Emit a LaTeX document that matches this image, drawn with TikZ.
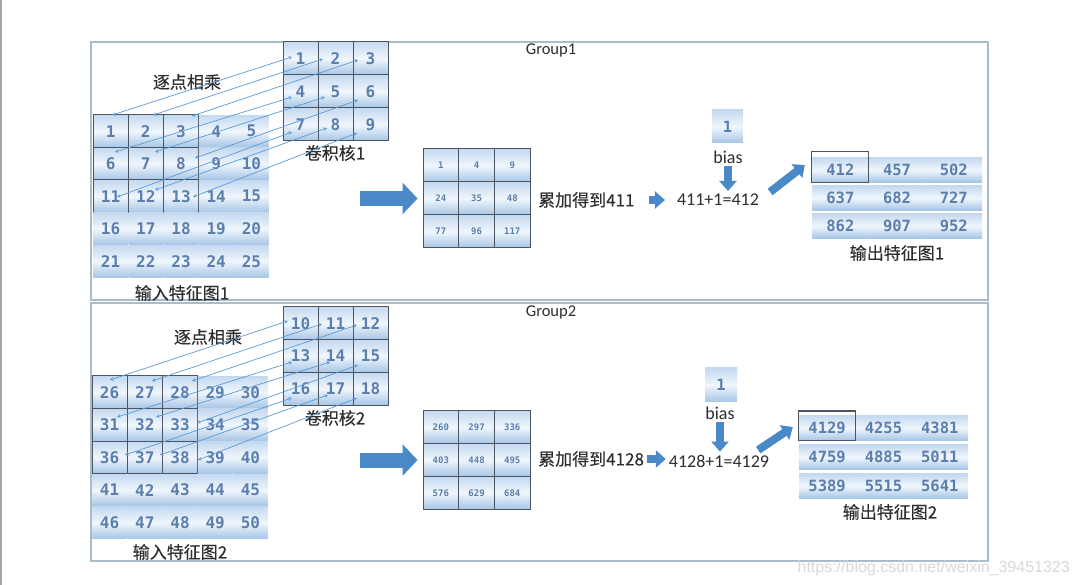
\documentclass[tikz,border=0pt]{standalone}
\usepackage{fontspec}
\setmainfont{Carlito}
\newfontfamily\cjkf[FakeBold=0.3]{Noto Sans CJK SC}
\newfontfamily\numf{DejaVu Sans Mono}
\newfontfamily\wmf{Liberation Sans}
\usetikzlibrary{arrows.meta,calc}
\definecolor{numc}{HTML}{5A7FAE}
\definecolor{cellt}{HTML}{C4D9F0}
\definecolor{cellm}{HTML}{F0F6FC}
\definecolor{cellb}{HTML}{A6C5E6}
\definecolor{gridln}{HTML}{4D5660}
\definecolor{panelc}{HTML}{A9BCC8}
\definecolor{linkc}{HTML}{5B9BD5}
\definecolor{fatc}{HTML}{4A89C8}
\definecolor{txt}{HTML}{2E2E2E}
\tikzset{
  cellbase/.style={rectangle, inner sep=0pt, top color=cellt, bottom color=cellb, middle color=cellm, text=numc},
  incell/.style={cellbase, minimum width=34.6pt, minimum height=31.9pt, font=\numf\bfseries\fontsize{16}{16}\selectfont},
  wincell/.style={incell, minimum width=35.2pt, minimum height=32.5pt, draw=gridln, line width=1pt},
  kcell/.style={incell, minimum width=35pt, minimum height=33pt, draw=gridln, line width=1pt},
  pcell/.style={cellbase, minimum width=35.7pt, minimum height=33pt, draw=gridln, line width=1pt, font=\numf\bfseries\fontsize{9}{9}\selectfont},
  ocell/.style={cellbase, minimum height=24.5pt, font=\numf\bfseries\fontsize{15.5}{15.5}\selectfont},
  biasbox/.style={cellbase, minimum width=31pt, minimum height=33pt, font=\numf\bfseries\fontsize{15.5}{15.5}\selectfont},
  cjklab/.style={text=txt, inner sep=1pt, font=\cjkf\fontsize{17}{17}\selectfont},
  latlab/.style={text=txt, inner sep=1pt, font=\fontsize{18}{18}\selectfont},
  grouplab/.style={text=txt, inner sep=1pt, font=\fontsize{16.5}{16.5}\selectfont},
  panelbox/.style={draw=panelc, line width=1.3pt},
  link/.style={draw=linkc, line width=0.7pt, {Stealth[length=3.5pt,width=3.5pt]}-{Stealth[length=3.5pt,width=3.5pt]}},
  fat/.style={draw=fatc, line width=8pt, -{Triangle[width=17pt,length=10pt]}},
  bigfat/.style={draw=fatc, line width=15pt, -{Triangle[width=31pt,length=15pt]}},
  hl/.style={draw=gridln, line width=1.1pt},
}
\begin{document}
\begin{tikzpicture}[x=1pt,y=-1pt]
\useasboundingbox (0,0) rectangle (1080,585);
\fill[white] (0,0) rectangle (1080,585);
\draw[gray!70, line width=1.6pt] (1,0) -- (1,585);

% panels
\draw[panelbox] (91,42) rectangle (988,300);
\draw[panelbox] (91,303) rectangle (988,561);
\node[grouplab] (grp1) at (551,50) {Group1};
\node[grouplab] (grp2) at (551,312) {Group2};

% ---------------- Group 1 ----------------
\foreach \r in {1,...,5}{
  \foreach \c in {1,...,5}{
    \pgfmathtruncatemacro\n{(\r-1)*5+\c}
    \pgfmathsetmacro\xx{93+(\c-0.5)*35.2}
    \pgfmathsetmacro\yy{115+(\r-0.5)*32.5}
    \pgfmathtruncatemacro\w{and(\r<4,\c<4)}
    \ifnum\w=1 \node[wincell] (g1i\n) at (\xx,\yy) {\n};
    \else \node[incell] (g1i\n) at (\xx,\yy) {\n};\fi
  }
}
\foreach \r in {1,2,3}{
  \foreach \c in {1,2,3}{
    \pgfmathtruncatemacro\n{(\r-1)*3+\c}
    \pgfmathsetmacro\xx{283+(\c-0.5)*35}
    \pgfmathsetmacro\yy{42+(\r-0.5)*33}
    \node[kcell] (g1k\n) at (\xx,\yy) {\n};
  }
}
\node[cjklab] (mul1) at (187,82) {逐点相乘};
\node[cjklab] (ker1) at (335,153) {卷积核1};
\node[cjklab] (inl1) at (182,293) {输入特征图1};

\foreach \k/\i/\kx/\ky/\ix/\iy in {
  1/1/-8.5/-1.5/1.4/-16.2, 2/2/-12.5/0.5/7.2/-16.2, 3/3/-12.5/1.5/11/-15.2,
  4/6/-8.5/5.5/4.4/-11.7, 5/7/-10.5/5.5/9.2/-11.7, 6/8/-12.5/8.5/14/-5.7,
  7/11/-8.5/7.5/6.4/0.7, 8/12/-8.5/3.5/9.2/-6.2, 9/13/-13.5/8.5/12/0.7}{
  \draw[link] ($(g1k\k.center)+(\kx,\ky)$) -- ($(g1i\i.center)+(\ix,\iy)$);
}

\foreach \v [count=\i] in {1,4,9,24,35,48,77,96,117}{
  \pgfmathtruncatemacro\r{int((\i-1)/3)}
  \pgfmathtruncatemacro\c{mod(\i-1,3)}
  \pgfmathsetmacro\xx{423+(\c+0.5)*35.7}
  \pgfmathsetmacro\yy{149+(\r+0.5)*33}
  \node[pcell] (g1p\i) at (\xx,\yy) {\v};
}
\coordinate (ba1) at ($(g1p4.west)+(-63,0)$);
\draw[bigfat, shorten >=5pt] (ba1) -- (g1p4.west);

\node[cjklab, anchor=west] (sum1) at (537,200) {累加得到411};
\node[latlab] (eq1) at (718,200) {411+1=412};
\draw[fat, shorten <=13pt, shorten >=11pt] (sum1.east) -- (sum1.east -| eq1.west);

\node[biasbox] (b1) at (727.5,126.5) {1};
\node[latlab] (bt1) at (728,157) {bias};
\draw[fat, shorten <=1pt, shorten >=2pt] (bt1.south) -- (bt1.south |- eq1.north);

\foreach \v [count=\i] in {412,457,502,637,682,727,862,907,952}{
  \pgfmathtruncatemacro\r{int((\i-1)/3)}
  \pgfmathtruncatemacro\c{mod(\i-1,3)}
  \pgfmathsetmacro\xx{812+(\c+0.5)*56.7}
  \pgfmathsetmacro\yy{170+\r*28}
  \node[ocell, minimum width=56.7pt] (g1o\i) at (\xx,\yy) {\v};
}
\draw[hl] (g1o1.south west) rectangle ($(g1o1.north east)+(0,-6)$);
\draw[fat] ($(eq1.east)+(10,-8)$) -- ($(g1o1.west)+(-7,-5)$);
\node[cjklab] (outl1) at (897,253) {输出特征图1};

% ---------------- Group 2 ----------------
\foreach \r in {1,...,5}{
  \foreach \c in {1,...,5}{
    \pgfmathtruncatemacro\n{(\r-1)*5+\c+25}
    \pgfmathsetmacro\xx{92+(\c-0.5)*35.2}
    \pgfmathsetmacro\yy{376+(\r-0.5)*32.6}
    \pgfmathtruncatemacro\w{and(\r<4,\c<4)}
    \ifnum\w=1 \node[wincell, minimum height=32.6pt] (g2i\n) at (\xx,\yy) {\n};
    \else \node[incell] (g2i\n) at (\xx,\yy) {\n};\fi
  }
}
\foreach \r in {1,2,3}{
  \foreach \c in {1,2,3}{
    \pgfmathtruncatemacro\n{(\r-1)*3+\c+9}
    \pgfmathsetmacro\xx{283+(\c-0.5)*35}
    \pgfmathsetmacro\yy{307+(\r-0.5)*32.7}
    \node[kcell, minimum height=32.7pt] (g2k\n) at (\xx,\yy) {\n};
  }
}
\node[cjklab] (mul2) at (208,337) {逐点相乘};
\node[cjklab] (ker2) at (335,418) {卷积核2};
\node[cjklab] (inl2) at (180,552) {输入特征图2};

\foreach \k/\i/\kx/\ky/\ix/\iy in {
  10/26/-12.5/-2.4/0.4/-12.3, 11/27/-13.5/0.6/7.2/-11.3, 12/28/-13.5/1.6/12/-11.3,
  13/31/-8.5/6/7.4/-7.9, 14/32/-5.5/6/11.2/-7.9, 15/33/-12.5/9/17/-1.9,
  16/36/-8.5/9.2/15.4/-2.5, 17/37/-7.5/6.2/15.2/-2.5, 18/38/-13.5/9.2/18/2.5}{
  \draw[link] ($(g2k\k.center)+(\kx,\ky)$) -- ($(g2i\i.center)+(\ix,\iy)$);
}

\foreach \v [count=\i] in {260,297,336,403,448,495,576,629,684}{
  \pgfmathtruncatemacro\r{int((\i-1)/3)}
  \pgfmathtruncatemacro\c{mod(\i-1,3)}
  \pgfmathsetmacro\xx{423+(\c+0.5)*35.7}
  \pgfmathsetmacro\yy{411+(\r+0.5)*32.7}
  \node[pcell, minimum height=32.7pt] (g2p\i) at (\xx,\yy) {\v};
}
\coordinate (ba2) at ($(g2p4.west)+(-63,0)$);
\draw[bigfat, shorten >=5pt] (ba2) -- (g2p4.west);

\node[cjklab, anchor=west] (sum2) at (537,459) {累加得到4128};
\node[latlab] (eq2) at (719,461) {4128+1=4129};
\draw[fat, shorten <=2pt, shorten >=2pt] (sum2.east) -- (sum2.east -| eq2.west);

\node[biasbox, minimum width=32pt, minimum height=34pt] (b2) at (721,385) {1};
\node[latlab] (bt2) at (720,413) {bias};
\draw[fat, shorten <=1pt, shorten >=2pt] (bt2.south) -- (bt2.south |- eq2.north);

\foreach \v [count=\i] in {4129,4255,4381,4759,4885,5011,5389,5515,5641}{
  \pgfmathtruncatemacro\r{int((\i-1)/3)}
  \pgfmathtruncatemacro\c{mod(\i-1,3)}
  \pgfmathsetmacro\xx{799+(\c+0.5)*56.3}
  \pgfmathsetmacro\yy{428+\r*29}
  \node[ocell, minimum width=56.3pt] (g2o\i) at (\xx,\yy) {\v};
}
\draw[hl] ($(g2o1.south west)+(0,0.5)$) rectangle ($(g2o1.north east)+(0,-4.5)$);
\draw[fat] ($(eq2.east)+(-12,-11)$) -- ($(g2o1.west)+(-6,-1)$);
\node[cjklab] (outl2) at (890,512) {输出特征图2};

% watermark
\node[anchor=east, text=black!15, inner sep=0pt, font=\wmf\fontsize{16}{16}\selectfont] (wm) at (1070,568) {https://blog.csdn.net/weixin\_39451323};
\end{tikzpicture}
\end{document}
